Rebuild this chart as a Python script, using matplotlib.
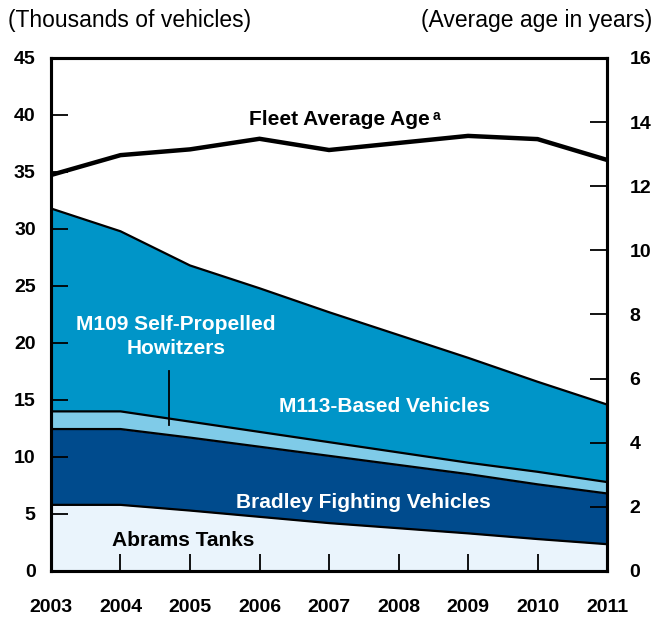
import numpy as np
import matplotlib
matplotlib.use("Agg")
import matplotlib.pyplot as plt

plt.rcParams['font.family'] = ['Liberation Sans', 'DejaVu Sans']

years = [2003, 2004, 2005, 2006, 2007, 2008, 2009, 2010, 2011]
abrams = [5.8, 5.8, 5.3, 4.75, 4.2, 3.75, 3.3, 2.8, 2.35]
bradley_top = [12.45, 12.45, 11.7, 10.9, 10.1, 9.3, 8.5, 7.6, 6.8]
m109_top = [14.0, 14.0, 13.1, 12.2, 11.3, 10.4, 9.5, 8.7, 7.8]
total = [31.8, 29.8, 26.8, 24.8, 22.7, 20.7, 18.7, 16.6, 14.6]
avg_age = [12.35, 12.97, 13.15, 13.48, 13.13, 13.35, 13.57, 13.47, 12.82]

c_abrams = '#eaf4fc'
c_bradley = '#004b8d'
c_m109 = '#7fcbe8'
c_m113 = '#0095c8'


def main():
    fig = plt.figure(figsize=(6.57, 6.17), dpi=100)
    ax = fig.add_axes([0.0776, 0.0746, 0.8464, 0.8314])

    x = np.array(years)
    zero = np.zeros(len(x))
    ax.fill_between(x, zero, abrams, color=c_abrams, lw=0)
    ax.fill_between(x, abrams, bradley_top, color=c_bradley, lw=0)
    ax.fill_between(x, bradley_top, m109_top, color=c_m109, lw=0)
    ax.fill_between(x, m109_top, total, color=c_m113, lw=0)
    for s in [abrams, bradley_top, m109_top, total]:
        ax.plot(x, s, color='black', lw=1.6, solid_joinstyle='miter')

    ax.set_xlim(2003, 2011)
    ax.set_ylim(0, 45)
    ax.set_xticks(years)
    ax.set_yticks(range(0, 46, 5))
    for sp in ax.spines.values():
        sp.set_linewidth(2.2)
    ax.tick_params(axis='both', direction='in', length=12, width=1.3,
                   labelsize=14)
    ax.tick_params(axis='y', pad=11)
    ax.tick_params(axis='x', pad=20)
    for t in ax.get_xticklabels() + ax.get_yticklabels():
        t.set_fontweight('bold')

    # right axis for average age
    ax2 = ax.twinx()
    ax2.plot(x, avg_age, color='black', lw=3.2, solid_joinstyle='miter')
    ax2.set_ylim(0, 16)
    ax2.set_yticks(range(0, 17, 2))
    for sp in ax2.spines.values():
        sp.set_linewidth(2.2)
    ax2.tick_params(axis='y', direction='in', length=12, width=1.3,
                    labelsize=14, pad=16)
    for t in ax2.get_yticklabels():
        t.set_fontweight('bold')

    # labels
    fig.text(0.012, 0.966, '(Thousands of vehicles)', fontsize=16.5,
             ha='left', va='center')
    fig.text(0.993, 0.966, '(Average age in years)', fontsize=16.5,
             ha='right', va='center')

    t = ax.text(2007.15, 39.6, 'Fleet Average Age', fontsize=15,
                fontweight='bold', ha='center', va='center')
    ax.annotate('a', xy=(1, 1), xycoords=t, xytext=(2, 1),
                textcoords='offset points', fontsize=10, fontweight='bold',
                ha='left', va='top')
    ax.text(2004.8, 20.6, 'M109 Self-Propelled\nHowitzers', fontsize=15,
            fontweight='bold', color='white', ha='center', va='center',
            linespacing=1.35)
    ax.plot([2004.7, 2004.7], [17.5, 12.8], color='black', lw=1.3)
    ax.text(2007.8, 14.4, 'M113-Based Vehicles', fontsize=15,
            fontweight='bold', color='white', ha='center', va='center')
    ax.text(2007.5, 6.0, 'Bradley Fighting Vehicles', fontsize=15,
            fontweight='bold', color='white', ha='center', va='center')
    ax.text(2004.9, 2.7, 'Abrams Tanks', fontsize=15, fontweight='bold',
            color='black', ha='center', va='center')

    fig.savefig('out.png', dpi=100)


if __name__ == '__main__':
    main()
